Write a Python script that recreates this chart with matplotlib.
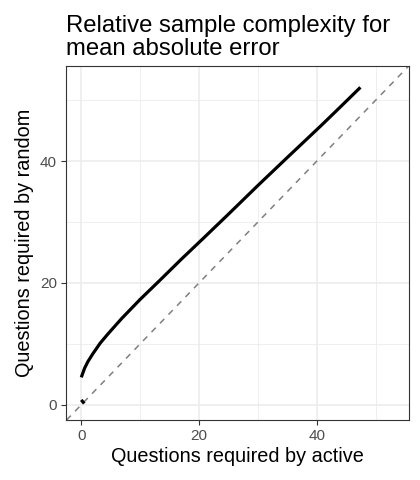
import matplotlib
matplotlib.use("Agg")
import matplotlib.pyplot as plt

plt.rcParams["font.family"] = ["Liberation Sans", "DejaVu Sans"]

# questions needed by active vs random
active = [0.0, 0.56, 1.13, 1.98, 3.2, 4.5, 6.9, 10.0, 13.1, 17.0, 20.7, 24.9, 30.0, 35.0, 40.7, 43.8, 47.4]
random = [4.5, 6.0, 7.1, 8.4, 10.1, 11.6, 14.2, 17.3, 20.2, 23.9, 27.3, 31.2, 36.0, 40.6, 45.8, 48.7, 52.1]
# short stray piece near the origin
active_tail = [0.0, 0.5]
random_tail = [0.8, 0.2]

ticks = [0, 20, 40]
minor = [10, 30, 50]
lims = (-2.65, 55.65)

fig = plt.figure(figsize=(4.2, 4.8), dpi=100)
ax = fig.add_axes([0.1564, 0.125, 0.8174, 0.7381])

for v in minor:
    ax.axvline(v, color="#EBEBEB", lw=0.55, zorder=0)
    ax.axhline(v, color="#EBEBEB", lw=0.55, zorder=0)
for v in ticks:
    ax.axvline(v, color="#EBEBEB", lw=1.1, zorder=0)
    ax.axhline(v, color="#EBEBEB", lw=1.1, zorder=0)

ax.axline((0, 0), slope=1, color="#7F7F7F", lw=1.1, ls=(0, (4, 4)), zorder=1)
ax.plot(active, random, color="black", lw=2.3, solid_capstyle="butt",
        solid_joinstyle="round", zorder=2)
ax.plot(active_tail, random_tail, color="black", lw=2.3, solid_capstyle="butt", zorder=2)

ax.set_xlim(lims)
ax.set_ylim(lims[0] + 0.15, lims[1])
ax.set_xticks(ticks)
ax.set_yticks(ticks)
ax.tick_params(length=3.8, width=0.8, color="#333333", labelcolor="#4D4D4D",
               labelsize=11, pad=2.5)
for s in ax.spines.values():
    s.set_color("#333333")
    s.set_linewidth(0.8)

ax.set_xlabel("Questions required by active", fontsize=14.3, labelpad=3)
ax.set_ylabel("Questions required by random", fontsize=14.3, labelpad=4)
ax.set_title("Relative sample complexity for\nmean absolute error", fontsize=17.2,
             loc="left", x=0, pad=8, linespacing=1.05)

fig.savefig("out.png", dpi=100)
